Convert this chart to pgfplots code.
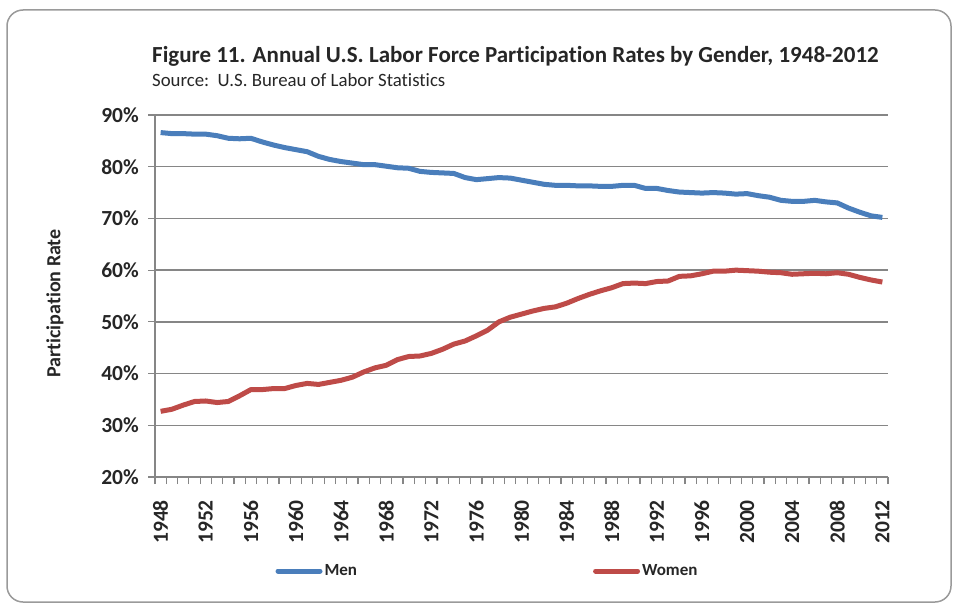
\documentclass[border=0pt]{standalone}
\usepackage{pgfplots}
\pgfplotsset{compat=1.18}
\usepackage{fontspec}
\setmainfont{Carlito}[Ligatures={NoCommon}]
\definecolor{menblue}{HTML}{4A7EBB}
\definecolor{womred}{HTML}{BE4B48}
\definecolor{gridgray}{HTML}{868686}
\definecolor{bordergray}{HTML}{9A9A9A}
\begin{document}
\begin{tikzpicture}[x=1pt,y=1pt]
\useasboundingbox (0,0) rectangle (953,-604);
\draw[bordergray, line width=1.5pt, rounded corners=16pt] (7,-10) rectangle (951,-602);
\node[anchor=base west, inner sep=0pt, font=\fontsize{23}{27}\selectfont\bfseries, text=black!85] at (152,-63) {Figure 11. Annual U.S. Labor Force Participation Rates by Gender, 1948-2012};
\node[anchor=base west, inner sep=0pt, font=\fontsize{18.8}{22}\selectfont, text=black!85] at (152,-87) {Source:\ \ U.S. Bureau of Labor Statistics};
\node[rotate=90, inner sep=0pt, font=\fontsize{20}{24}\selectfont\bfseries, text=black!85] at (55,-303.5) {Participation Rate};
\begin{axis}[
  at={(155pt,-477pt)}, anchor=origin,
  scale only axis, width=733pt, height=362pt,
  xmin=1947.5, xmax=2012.5, ymin=20, ymax=90,
  axis lines*=left,
  axis line style={gridgray, line width=1.5pt},
  ytick={20,30,...,90},
  yticklabels={20\%,30\%,40\%,50\%,60\%,70\%,80\%,90\%},
  xtick={1948,1952,...,2012},
  xticklabels={1948,1952,1956,1960,1964,1968,1972,1976,1980,1984,1988,1992,1996,2000,2004,2008,2012},
  minor xtick={1947.5,1948.5,...,2012.6},
  tick align=outside,
  major tick length=7pt, minor tick length=7pt,
  major x tick style={draw=none},
  minor x tick style={gridgray, line width=1.2pt},
  ytick style={gridgray, line width=1.2pt},
  ymajorgrids,
  major grid style={gridgray, line width=1.5pt},
  yticklabel style={font=\fontsize{21.5}{25}\selectfont\bfseries, text=black!85, inner sep=0pt, xshift=-9pt},
  xticklabel style={font=\fontsize{21.5}{25}\selectfont\bfseries, text=black!85, rotate=90, anchor=east, inner sep=0pt},
  xticklabel shift=16pt,
  legend columns=2,
  legend style={draw=none, fill=none, at={(0.4536,-0.2597)}, anchor=center,
    font=\fontsize{17}{20}\selectfont\bfseries, text=black!85,
    /tikz/every even column/.append style={column sep=234pt},
    nodes={inner sep=2pt}},
  legend image code/.code={\draw[#1, line cap=round] (0pt,0pt) -- (42pt,0pt);},
]
\addplot[menblue, line width=5pt, line join=round] coordinates {
(1948,86.6)(1949,86.4)(1950,86.4)(1951,86.3)(1952,86.3)(1953,86.0)(1954,85.5)(1955,85.4)(1956,85.5)(1957,84.8)
(1958,84.2)(1959,83.7)(1960,83.3)(1961,82.9)(1962,82.0)(1963,81.4)(1964,81.0)(1965,80.7)(1966,80.4)(1967,80.4)
(1968,80.1)(1969,79.8)(1970,79.7)(1971,79.1)(1972,78.9)(1973,78.8)(1974,78.7)(1975,77.9)(1976,77.5)(1977,77.7)
(1978,77.9)(1979,77.8)(1980,77.4)(1981,77.0)(1982,76.6)(1983,76.4)(1984,76.4)(1985,76.3)(1986,76.3)(1987,76.2)
(1988,76.2)(1989,76.4)(1990,76.4)(1991,75.8)(1992,75.8)(1993,75.4)(1994,75.1)(1995,75.0)(1996,74.9)(1997,75.0)
(1998,74.9)(1999,74.7)(2000,74.8)(2001,74.4)(2002,74.1)(2003,73.5)(2004,73.3)(2005,73.3)(2006,73.5)(2007,73.2)
(2008,73.0)(2009,72.0)(2010,71.2)(2011,70.5)(2012,70.2)
};
\addlegendentry{Men}
\addplot[womred, line width=5pt, line join=round] coordinates {
(1948,32.7)(1949,33.1)(1950,33.9)(1951,34.6)(1952,34.7)(1953,34.4)(1954,34.6)(1955,35.7)(1956,36.9)(1957,36.9)
(1958,37.1)(1959,37.1)(1960,37.7)(1961,38.1)(1962,37.9)(1963,38.3)(1964,38.7)(1965,39.3)(1966,40.3)(1967,41.1)
(1968,41.6)(1969,42.7)(1970,43.3)(1971,43.4)(1972,43.9)(1973,44.7)(1974,45.7)(1975,46.3)(1976,47.3)(1977,48.4)
(1978,50.0)(1979,50.9)(1980,51.5)(1981,52.1)(1982,52.6)(1983,52.9)(1984,53.6)(1985,54.5)(1986,55.3)(1987,56.0)
(1988,56.6)(1989,57.4)(1990,57.5)(1991,57.4)(1992,57.8)(1993,57.9)(1994,58.8)(1995,58.9)(1996,59.3)(1997,59.8)
(1998,59.8)(1999,60.0)(2000,59.9)(2001,59.8)(2002,59.6)(2003,59.5)(2004,59.2)(2005,59.3)(2006,59.4)(2007,59.3)
(2008,59.5)(2009,59.2)(2010,58.6)(2011,58.1)(2012,57.7)
};
\addlegendentry{Women}
\end{axis}
\end{tikzpicture}
\end{document}
